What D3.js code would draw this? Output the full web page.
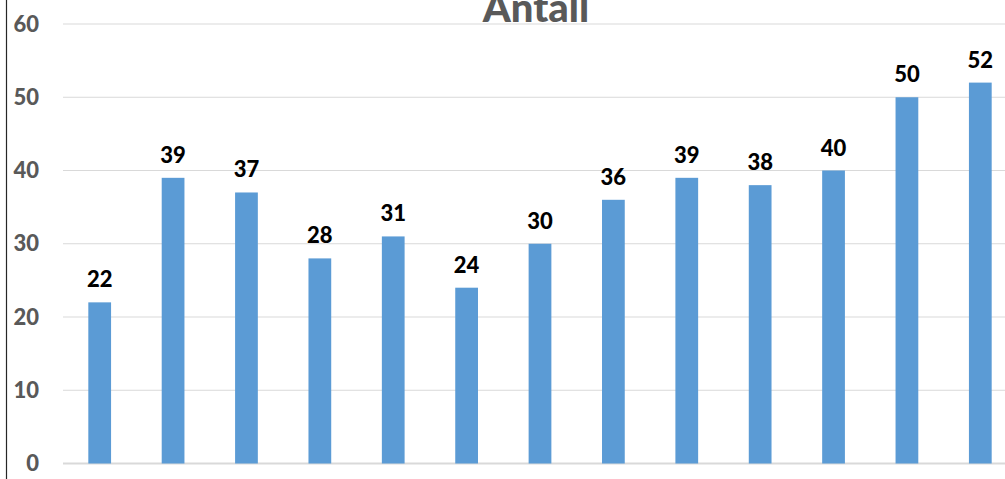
<!DOCTYPE html>
<html>
<head>
<meta charset="utf-8">
<script src="https://cdn.jsdelivr.net/npm/d3@7"></script>
<style>
  html, body { margin: 0; padding: 0; background: #fff; }
  svg { display: block; }
</style>
</head>
<body>
<svg id="chart" width="1005" height="479"></svg>
<script>
const categories = ["1","2","3","4","5","6","7","8","9","10","11","12","13"];
const values = [22, 39, 37, 28, 31, 24, 30, 36, 39, 38, 40, 50, 52];
const yTicks = [0, 10, 20, 30, 40, 50, 60];
const title = "Antall";

(function () {
const svg = d3.select("#chart");
const W = 1005, H = 479;
const mLeft = 63, mRight = 1017, mTop = 24, mBottom = 463.5;

const x = d3.scaleBand().domain(categories).range([mLeft, mRight]).paddingInner(0.69).paddingOuter(0.345);
const y = d3.scaleLinear().domain([0, 60]).range([mBottom, mTop]);

// left border line
svg.append("line").attr("x1", 6.5).attr("x2", 6.5).attr("y1", 0).attr("y2", H)
  .attr("stroke", "#262626").attr("stroke-width", 1.2);

// gridlines
svg.append("g").selectAll("line").data(yTicks).join("line")
  .attr("x1", mLeft).attr("x2", W)
  .attr("y1", d => y(d)).attr("y2", d => y(d))
  .attr("stroke", "#d9d9d9")
  .attr("stroke-width", d => d === 0 ? 2 : 1);

// y axis labels
const yAxis = d3.axisLeft(y).tickValues(yTicks).tickSize(0).tickPadding(0);
const gy = svg.append("g").attr("transform", "translate(39,0)").call(yAxis);
gy.select(".domain").remove();
gy.selectAll("text")
  .attr("font-family", "Lato, sans-serif")
  .attr("font-weight", 900)
  .attr("font-size", 22)
  .attr("fill", "#595959");

// bars
svg.append("g").selectAll("rect").data(values).join("rect")
  .attr("x", (d, i) => x(categories[i]))
  .attr("width", x.bandwidth())
  .attr("y", d => y(d))
  .attr("height", d => y(0) - y(d))
  .attr("fill", "#5b9bd5");

// data labels
svg.append("g").selectAll("text").data(values).join("text")
  .attr("x", (d, i) => x(categories[i]) + x.bandwidth() / 2)
  .attr("y", d => y(d) - 15)
  .attr("text-anchor", "middle")
  .attr("font-family", "Lato, sans-serif")
  .attr("font-weight", 900)
  .attr("font-size", 22)
  .attr("fill", "#000")
  .text(d => d);

// title
svg.append("text")
  .attr("x", (mLeft + mRight) / 2 - 4)
  .attr("y", 21.5)
  .attr("text-anchor", "middle")
  .attr("font-family", "Lato, sans-serif")
  .attr("font-weight", 900)
  .attr("font-size", 40)
  .attr("fill", "#595959")
  .text(title);
})();
</script>
</body>
</html>
